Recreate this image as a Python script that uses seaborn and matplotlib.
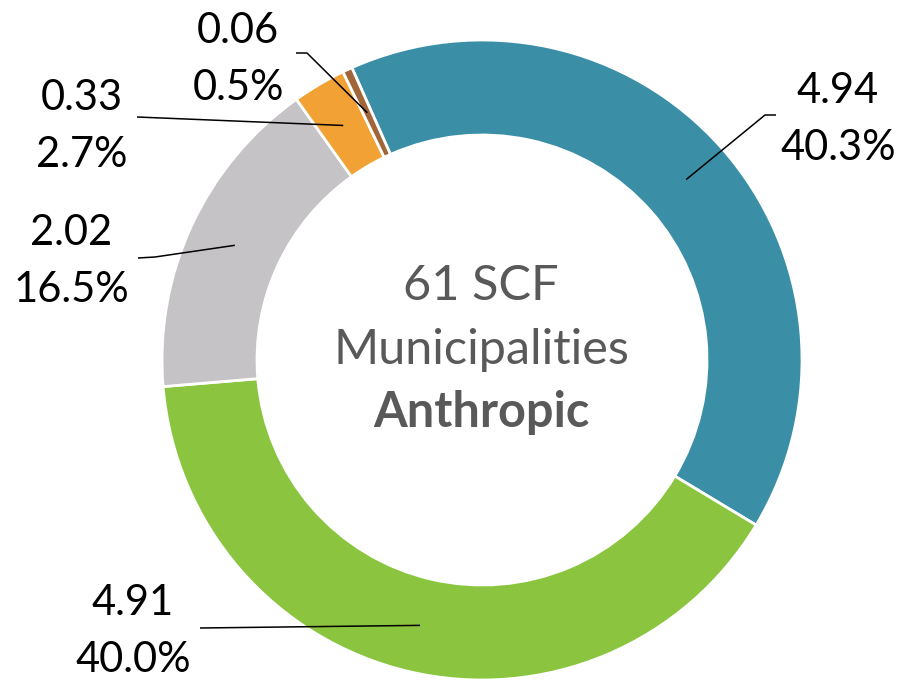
import numpy as np
import matplotlib
matplotlib.use("Agg")
import matplotlib.pyplot as plt
import seaborn as sns

sns.set_theme(style="white")
plt.rcParams['font.family'] = ['Lato', 'DejaVu Sans']

# Data
categories = ["Teal", "Green", "Grey", "Orange", "Brown"]
values = [4.94, 4.91, 2.02, 0.33, 0.06]
value_labels = ["4.94", "4.91", "2.02", "0.33", "0.06"]
pct_labels = ["40.3%", "40.0%", "16.5%", "2.7%", "0.5%"]
colors = ["#3A8FA7", "#8BC540", "#C5C3C6", "#F2A134", "#A0663A"]
center_lines = ["61 SCF", "Municipalities", "Anthropic"]

W, H = 907, 680
fig = plt.figure(figsize=(W / 100, H / 100), dpi=100)
ax = fig.add_axes([0, 0, 1, 1])
ax.set_xlim(0, W)
ax.set_ylim(0, H)
ax.set_aspect("equal")
ax.axis("off")

cx, cy = 482, H - 360
R = 320
width = 95
start = 114

wedges, _ = ax.pie(values, colors=colors, startangle=start, counterclock=False,
                   center=(cx, cy), radius=R, frame=True,
                   wedgeprops=dict(width=width, edgecolor="white", linewidth=2))
ax.set_xlim(0, W)
ax.set_ylim(0, H)
ax.axis("off")

# label positions (pixel coords from top) and leader elbow points
label_pos = [(838, 103), (133, 615), (71, 245), (82, 110), (238, 43)]
elbows = [
    [(765, 115), (776, 115)],
    [(200, 628)],
    [(155, 257), (138, 258)],
    [(137, 117)],
    [(307, 53), (296, 53)],
]
rmid = R - width / 2
for w, (lx, ly), el, vl, pl in zip(wedges, label_pos, elbows, value_labels, pct_labels):
    ang = np.deg2rad((w.theta1 + w.theta2) / 2)
    ax_ = cx + rmid * np.cos(ang)
    ay_ = cy + rmid * np.sin(ang)
    xs = [ax_] + [p[0] for p in el]
    ys = [ay_] + [H - p[1] for p in el]
    ax.plot(xs, ys, color="black", lw=1.1, solid_capstyle="butt")
    ax.text(lx, H - ly, vl, ha="center", va="baseline", fontsize=30, color="black")
    ax.text(lx, H - ly - 57, pl, ha="center", va="baseline", fontsize=30, color="black")

ax.text(481, H - 300, center_lines[0], ha="center", va="baseline", fontsize=35, color="#595959")
ax.text(481, H - 364, center_lines[1], ha="center", va="baseline", fontsize=35, color="#595959")
ax.text(481, H - 427, center_lines[2], ha="center", va="baseline", fontsize=35, color="#595959", fontweight="bold")

fig.savefig("out.png", dpi=100, facecolor="white")
